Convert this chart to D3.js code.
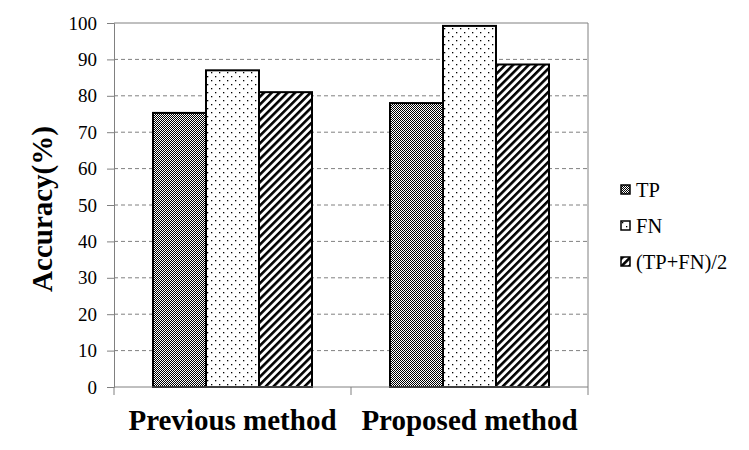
<!DOCTYPE html>
<html><head><meta charset="utf-8">
<script src="https://cdn.jsdelivr.net/npm/d3@7/dist/d3.min.js"></script>
<style>body{margin:0;background:#fff;}svg{display:block;}</style>
</head><body>
<svg id="c" width="749" height="450"></svg>
<script>
const categories = ["Previous method", "Proposed method"];
const seriesNames = ["TP", "FN", "(TP+FN)/2"];
const tpValues = [75.3, 78];
const fnValues = [87, 99.2];
const avgValues = [81, 88.6];
const yTicks = [0,10,20,30,40,50,60,70,80,90,100];

const svg = d3.select("#c");
const m = {l:114, r:161, t:23, b:63};
const W = 749, H = 450;
const iw = W - m.l - m.r, ih = H - m.t - m.b;
const font = "Liberation Serif";

const defs = svg.append("defs");
// checker
const p1 = defs.append("pattern").attr("id","pTP").attr("patternUnits","userSpaceOnUse").attr("width",2).attr("height",2);
p1.append("rect").attr("width",2).attr("height",2).attr("fill","#fff");
p1.append("rect").attr("width",1).attr("height",1).attr("fill","#000");
p1.append("rect").attr("x",1).attr("y",1).attr("width",1).attr("height",1).attr("fill","#000");
// dots
const p2 = defs.append("pattern").attr("id","pFN").attr("patternUnits","userSpaceOnUse").attr("width",8).attr("height",8);
p2.append("rect").attr("width",8).attr("height",8).attr("fill","#fff");
p2.append("rect").attr("x",1).attr("y",1).attr("width",1.3).attr("height",1.3).attr("fill","#000");
p2.append("rect").attr("x",5).attr("y",5).attr("width",1.3).attr("height",1.3).attr("fill","#000");
// stripes
const p3 = defs.append("pattern").attr("id","pAVG").attr("patternUnits","userSpaceOnUse").attr("width",5.5).attr("height",10).attr("patternTransform","rotate(45)");
p3.append("rect").attr("width",5.5).attr("height",10).attr("fill","#fff");
p3.append("rect").attr("width",2.6).attr("height",10).attr("fill","#000");
const fills = ["url(#pTP)","url(#pFN)","url(#pAVG)"];

const g = svg.append("g").attr("transform",`translate(${m.l},${m.t})`);
const x0 = d3.scaleBand().domain(categories).range([0,iw]).paddingInner(0).paddingOuter(0);
const x1 = d3.scaleBand().domain(seriesNames).range([39, x0.bandwidth()-39]);
const y = d3.scaleLinear().domain([0,100]).range([ih,0]);

// gridlines
g.selectAll(".grid").data(yTicks.filter(t=>t>0 && t<100)).enter().append("line")
  .attr("x1",0).attr("x2",iw).attr("y1",d=>y(d)).attr("y2",d=>y(d))
  .attr("stroke","#808080").attr("stroke-width",1).attr("stroke-dasharray","4,3");
// border top/right
g.append("line").attr("x1",0).attr("x2",iw).attr("y1",y(100)).attr("y2",y(100)).attr("stroke","#808080");
g.append("line").attr("x1",iw).attr("x2",iw).attr("y1",0).attr("y2",ih).attr("stroke","#808080");

const data = categories.map((c,i)=>({cat:c, vals:[tpValues[i],fnValues[i],avgValues[i]]}));
const grp = g.selectAll(".grp").data(data).enter().append("g").attr("transform",d=>`translate(${x0(d.cat)},0)`);
grp.selectAll("rect").data(d=>d.vals.map((v,j)=>({s:seriesNames[j],v,j}))).enter().append("rect")
  .attr("x",d=>x1(d.s)).attr("width",x1.bandwidth()).attr("y",d=>y(d.v)).attr("height",d=>ih-y(d.v))
  .attr("fill",d=>fills[d.j]).attr("stroke","#000").attr("stroke-width",2);

// y axis
const ya = g.append("g").call(d3.axisLeft(y).tickValues(yTicks).tickSize(7).tickPadding(10));
ya.attr("font-family",null);
ya.select(".domain").attr("stroke","#808080");
ya.selectAll(".tick line").attr("stroke","#808080");
ya.selectAll("text").style("font-family",font).style("font-size","19px").attr("fill","#000");

// x axis
const xa = g.append("g").attr("transform",`translate(0,${ih})`);
xa.append("line").attr("x1",0).attr("x2",iw).attr("stroke","#808080");
const bounds = [0, ...categories.map(c=>x0(c)+x0.bandwidth())];
xa.selectAll(".xt").data(bounds).enter().append("line").attr("x1",d=>d).attr("x2",d=>d).attr("y1",0).attr("y2",8).attr("stroke","#808080");
xa.selectAll(".xl").data(categories).enter().append("text")
  .attr("x",d=>x0(d)+x0.bandwidth()/2).attr("y",43).attr("text-anchor","middle")
  .style("font-family",font).style("font-weight","bold").style("font-size","29px").text(d=>d);

// y title
svg.append("text").attr("transform","translate(52,209) rotate(-90)").attr("text-anchor","middle")
  .style("font-family",font).style("font-weight","bold").style("font-size","29px").text("Accuracy(%)");

// legend
const lg = svg.append("g").attr("transform","translate(621,185)");
const li = lg.selectAll("g").data(seriesNames).enter().append("g").attr("transform",(d,i)=>`translate(0,${i*36})`);
li.append("rect").attr("width",9).attr("height",9).attr("fill",(d,i)=>fills[i]).attr("stroke","#000").attr("stroke-width",1.5);
li.append("text").attr("x",15).attr("y",12).style("font-family",font).style("font-size","20.5px").text(d=>d);
</script>
</body></html>
